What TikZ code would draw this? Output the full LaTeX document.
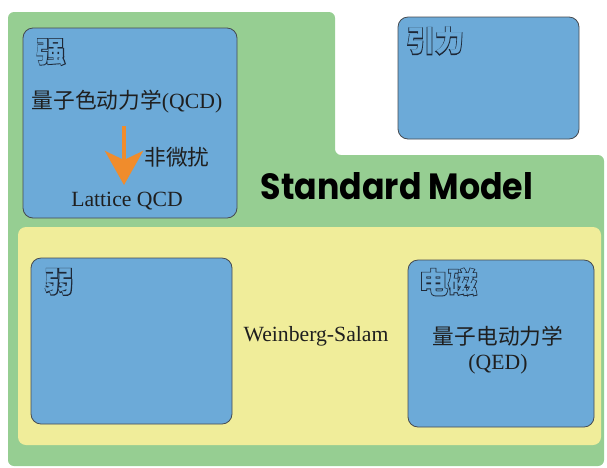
\documentclass[tikz,border=0pt]{standalone}
\usepackage{fontspec}
\usepackage{graphicx}
\setmainfont{Liberation Serif}
\newfontfamily\cjk{Noto Sans CJK SC}
\newfontfamily\cjkfat[FakeBold=5]{Noto Sans CJK SC}
\newfontfamily\smfont{Poppins}
\usetikzlibrary{arrows.meta}
\definecolor{bggreen}{RGB}{150,206,146}
\definecolor{bgyellow}{RGB}{240,237,154}
\definecolor{boxblue}{RGB}{108,170,216}
\definecolor{edge}{RGB}{70,74,80}
\definecolor{ttledge}{RGB}{30,40,55}
\definecolor{arroworange}{RGB}{240,140,44}
\newcommand{\outlined}[1]{\rlap{\color{ttledge}\cjkfat\bfseries #1}{\color{boxblue}\cjk\bfseries #1}}
\tikzset{
  forcebox/.style={draw=edge, fill=boxblue, rounded corners=10pt, line width=0.8pt, inner sep=0pt, outer sep=0pt},
  txt/.style={font=\fontsize{21.7}{25}\selectfont, text=black!88, inner sep=0pt},
  ttl/.style={font=\fontsize{29}{32}\selectfont, inner sep=0pt},
}
\begin{document}
\begin{tikzpicture}[x=1pt,y=-1pt]
\useasboundingbox (0,0) rectangle (607,467);
% green L-shaped background
\fill[bggreen, rounded corners=6pt] (8,12) -- (335,12) -- (335,155) -- (604,155) -- (604,466) -- (8,466) -- cycle;
% yellow region
\node[fill=bgyellow, rounded corners=8pt, minimum width=583pt, minimum height=218pt, inner sep=0pt] (sm) at (309.5,336) {};
% boxes
\node[forcebox, minimum width=214pt, minimum height=190pt] (strong) at (130,123) {};
\node[forcebox, minimum width=181pt, minimum height=122pt] (grav) at (488.5,78) {};
\node[forcebox, minimum width=201pt, minimum height=166pt] (weak) at (131.5,341) {};
\node[forcebox, minimum width=186pt, minimum height=167pt] (em) at (501,343.5) {};
% titles
\node[ttl] (tstrong) at (51,52) {\outlined{强}};
\node[ttl] (tgrav) at (435,41) {\outlined{引力}};
\node[ttl] (tweak) at (59,282) {\outlined{弱}};
\node[ttl] (tem) at (448,282) {\outlined{电磁}};
% texts
\node[txt] (qcd) at (127,102) {{\cjk 量子色动力学}(QCD)};
\node[txt] (np) at (177,157) {\cjk 非微扰};
\node[txt] (lqcd) at (127,201) {Lattice QCD};
\node[txt] (ws) at (316,336) {Weinberg-Salam};
\node[txt, align=center] (qed) at (498,350) {{\cjk 量子电动力学}\\(QED)};
\node[inner sep=0pt] (smt) at (397,186.5) {\resizebox{272pt}{27pt}{\smfont\bfseries Standard Model}};
% arrow
\coordinate (a1) at (124,126);
\coordinate (a2) at (124,185);
\draw[arroworange, line width=4pt, -{Stealth[length=34pt, width=38pt, inset=9pt]}] (a1) -- (a2);
\end{tikzpicture}
\end{document}
